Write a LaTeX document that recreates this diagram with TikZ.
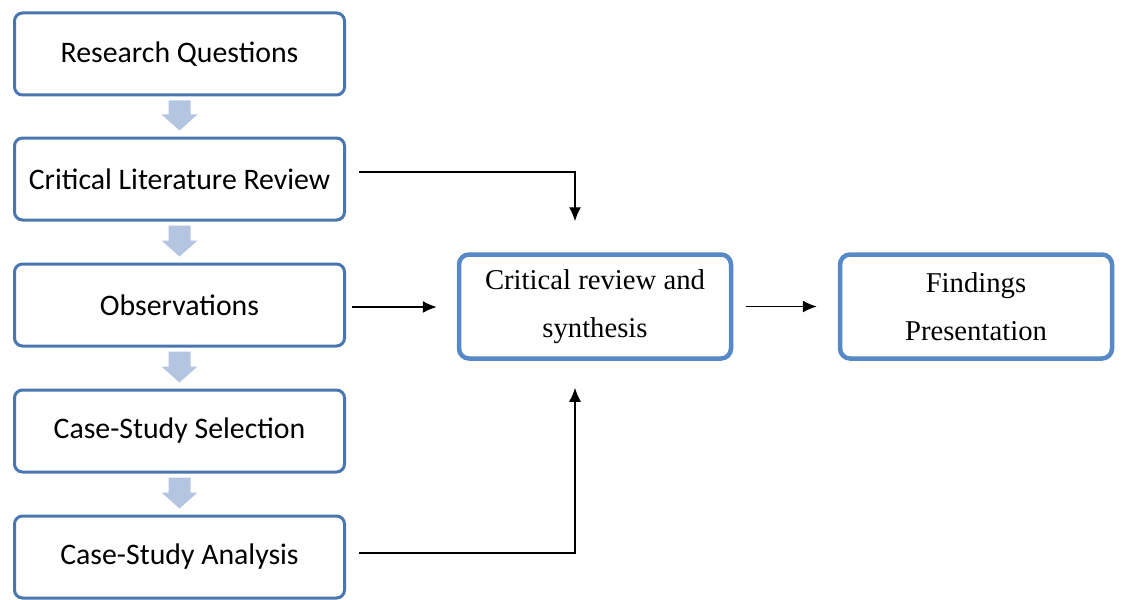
\documentclass[tikz,border=0pt]{standalone}
\usepackage{fontspec}
\setmainfont{Liberation Serif}
\newfontfamily\calfont{Carlito}
\usetikzlibrary{arrows.meta,calc}
\definecolor{leftblue}{HTML}{4A76B0}
\definecolor{rightblue}{HTML}{5689C6}
\definecolor{stepblue}{HTML}{B3C5E0}
\begin{document}
\begin{tikzpicture}[x=1pt,y=-1pt,
  stepbox/.style={draw=leftblue, line width=3pt, rounded corners=8pt, fill=white,
    minimum width=330pt, minimum height=82pt, inner sep=0pt,
    font=\calfont\fontsize{29.8}{34}\selectfont},
  resultbox/.style={draw=rightblue, line width=4.5pt, rounded corners=10pt, fill=white,
    minimum width=272pt, minimum height=104pt, inner sep=0pt, align=center,
    font=\fontsize{28.7}{48}\selectfont},
  link/.style={black, line width=1.3pt, -{Latex[length=14pt,width=12pt]}}]
\useasboundingbox (0,0) rectangle (1123,599);

% left column of stages
\node[stepbox] (rq)  at (179.5,54)  {Research Questions};
\node[stepbox] (clr) at (179.5,179) {Critical Literature Review};
\node[stepbox] (obs) at (179.5,305) {Observations};
\node[stepbox] (css) at (179.5,431) {Case-Study Selection};
\node[stepbox] (csa) at (179.5,557) {Case-Study Analysis};

% block arrows between consecutive stages
\foreach \a/\b in {rq/clr, clr/obs, obs/css, css/csa}{
  \coordinate (top) at ($(\a.south)+(0,4)$);
  \coordinate (tip) at ($(\b.north)+(0,-6)$);
  \fill[stepblue] ($(top)+(-11,0)$) -- ($(top)+(11,0)$) -- ($(tip)+(11,-16)$)
    -- ($(tip)+(18,-16)$) -- (tip) -- ($(tip)+(-18,-16)$) -- ($(tip)+(-11,-16)$) -- cycle;
}

% synthesis and findings
\node[resultbox] (syn) at (595,306.5) {Critical review and\\synthesis};
\node[resultbox] (fin) at (976,306.5) {Findings\\Presentation};

% connectors
\draw[link] ([xshift=13pt,yshift=7pt]clr.east) -| ([xshift=-20pt,yshift=31pt]syn.north);
\draw[link, shorten <=6pt, shorten >=20pt] ([yshift=-2pt]obs.east) -- ([yshift=-2pt]obs.east -| syn.west);
\draw[link, shorten <=13pt, shorten >=21pt] (syn.east) -- (fin.west);
\draw[link] ([xshift=13pt,yshift=4pt]csa.east) -| ([xshift=-20pt,yshift=-27pt]syn.south);
\end{tikzpicture}
\end{document}
